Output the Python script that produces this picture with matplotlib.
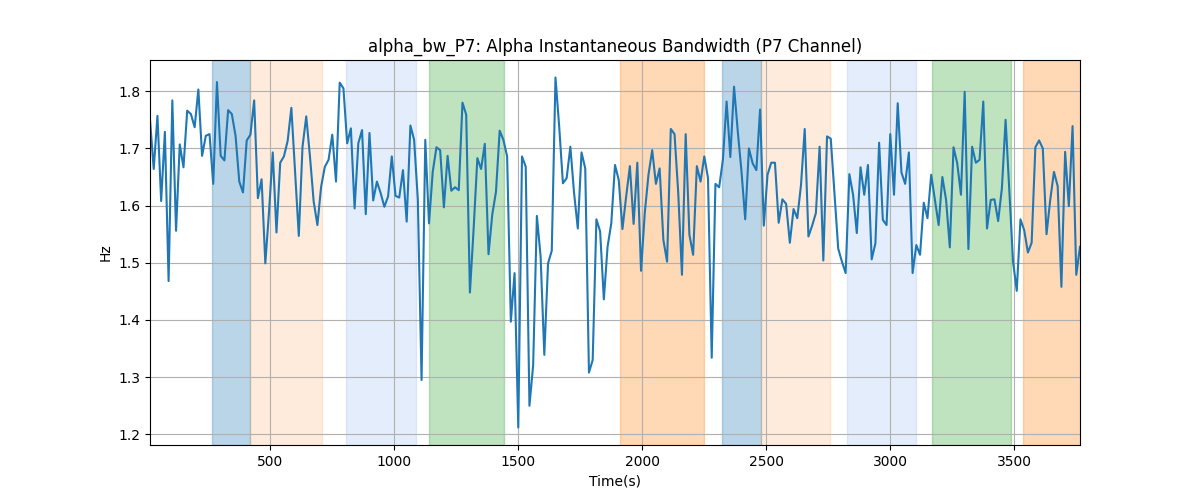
import numpy as np
import matplotlib
matplotlib.use("Agg")
import matplotlib.pyplot as plt

# sampling grid (s)
t_start = 16
t_step = 15

bandwidth_hz = [
    1.750, 1.664, 1.757, 1.608, 1.729, 1.468, 1.784, 1.556, 1.707, 1.667,
    1.766, 1.760, 1.737, 1.803, 1.687, 1.722, 1.725, 1.638, 1.816, 1.687,
    1.679, 1.767, 1.760,
    1.722, 1.642, 1.623, 1.714, 1.724, 1.784, 1.613, 1.646, 1.499, 1.590,
    1.693, 1.553, 1.675, 1.686, 1.713, 1.771, 1.660, 1.547, 1.703, 1.756,
    1.686, 1.607, 1.566,
    1.633, 1.668, 1.680, 1.724, 1.642, 1.815, 1.805, 1.709, 1.735, 1.595,
    1.709, 1.732, 1.585, 1.727, 1.609, 1.642, 1.622, 1.598, 1.616, 1.686,
    1.617, 1.614, 1.662,
    1.572, 1.740, 1.715, 1.610, 1.295, 1.715, 1.569, 1.659, 1.702, 1.697,
    1.597, 1.687, 1.626, 1.632, 1.627, 1.780, 1.759, 1.448, 1.560, 1.683,
    1.664, 1.708,
    1.515, 1.584, 1.624, 1.731, 1.715, 1.686, 1.397, 1.482, 1.212, 1.686,
    1.668, 1.250, 1.321, 1.582, 1.511, 1.339, 1.499, 1.521, 1.824, 1.738,
    1.639, 1.648, 1.703,
    1.622, 1.560, 1.693, 1.665, 1.308, 1.330, 1.576, 1.555, 1.436, 1.528,
    1.569, 1.671, 1.645, 1.559, 1.616, 1.669, 1.568, 1.675, 1.486, 1.587,
    1.654, 1.697,
    1.638, 1.665, 1.540, 1.502, 1.734, 1.725, 1.622, 1.479, 1.725, 1.549,
    1.514, 1.669, 1.642, 1.686, 1.648, 1.334, 1.638, 1.632, 1.680, 1.782,
    1.685, 1.808, 1.730, 1.660,
    1.576, 1.700, 1.674, 1.662, 1.768, 1.565, 1.654, 1.675, 1.675, 1.570,
    1.611, 1.603, 1.535, 1.594, 1.578, 1.636, 1.734, 1.546, 1.565, 1.587,
    1.703,
    1.504, 1.721, 1.717, 1.622, 1.525, 1.502, 1.482, 1.655, 1.619, 1.552,
    1.667, 1.619, 1.671, 1.506, 1.534, 1.710, 1.575, 1.566, 1.725, 1.619,
    1.779, 1.658, 1.638, 1.693, 1.482, 1.531, 1.514, 1.605, 1.578, 1.654,
    1.610, 1.566, 1.650, 1.610, 1.527, 1.702, 1.674, 1.619, 1.799, 1.524,
    1.703, 1.675, 1.680, 1.782, 1.560, 1.610, 1.611, 1.573, 1.630, 1.750,
    1.627, 1.502, 1.451, 1.576, 1.557, 1.518, 1.535, 1.702, 1.714, 1.700,
    1.550, 1.610, 1.659, 1.634, 1.458, 1.694, 1.599, 1.739, 1.479, 1.528,
]

# shaded segments: start, end, colour, alpha
span_starts = [266, 421, 806, 1141, 1911, 2323, 2479, 2827, 3169, 3536]
span_ends = [421, 711, 1087, 1445, 2248, 2479, 2756, 3106, 3486, 3790]
span_colors = ['tab:blue', 'tab:orange', 'cornflowerblue', 'tab:green', 'tab:orange',
               'tab:blue', 'tab:orange', 'cornflowerblue', 'tab:green', 'tab:orange']
span_alphas = [0.3, 0.15, 0.17, 0.3, 0.3, 0.3, 0.15, 0.17, 0.3, 0.3]

times = t_start + t_step * np.arange(len(bandwidth_hz))

fig, ax = plt.subplots(figsize=(12, 5), dpi=100)
for s, e, c, a in zip(span_starts, span_ends, span_colors, span_alphas):
    ax.axvspan(s, e, color=c, alpha=a)
ax.plot(times, bandwidth_hz, color='tab:blue', linewidth=1.5)
ax.set_xlim(times[0], times[-1])
ax.set_title("alpha_bw_P7: Alpha Instantaneous Bandwidth (P7 Channel)")
ax.set_xlabel("Time(s)")
ax.set_ylabel("Hz")
ax.grid(True)
fig.savefig("out.png")
